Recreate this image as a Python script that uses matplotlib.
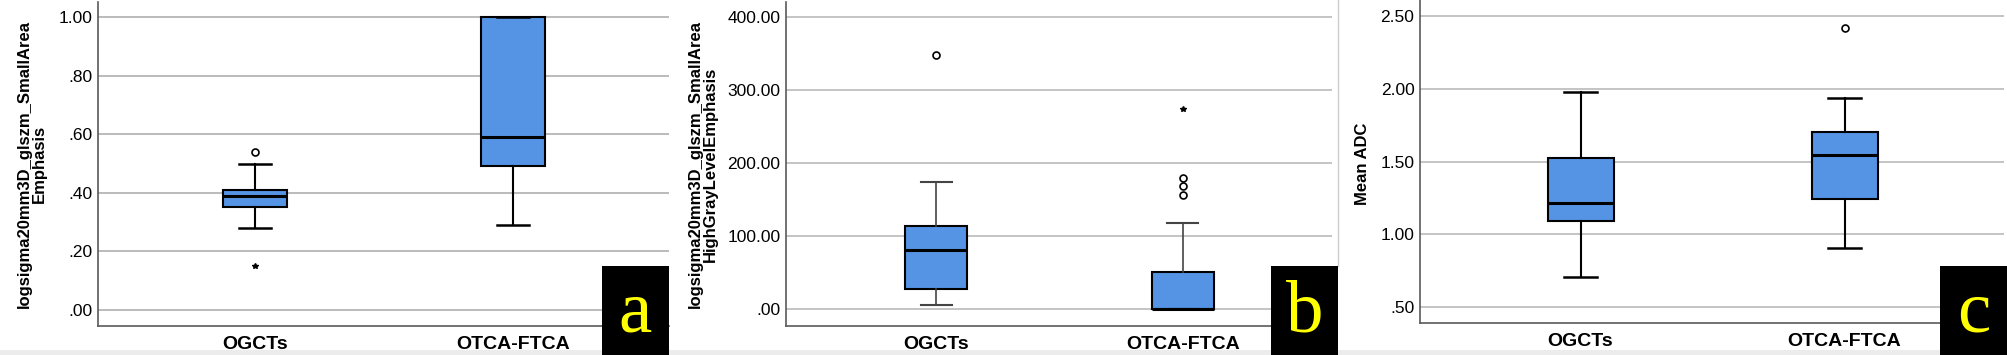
import numpy as np
import matplotlib
matplotlib.use("Agg")
import matplotlib.pyplot as plt
from matplotlib.patches import Rectangle
from matplotlib.lines import Line2D

plt.rcParams['font.family'] = ['Liberation Sans', 'DejaVu Sans']

groups = ["OGCTs", "OTCA-FTCA"]

# panel a: logsigma20mm3D_glszm_SmallAreaEmphasis
a_q1 = [0.352, 0.492]
a_med = [0.389, 0.592]
a_q3 = [0.410, 1.000]
a_lo = [0.280, 0.290]
a_hi = [0.500, 1.000]
a_circles = [[0.540], []]
a_stars = [[0.151], []]

# panel b: logsigma20mm3D_glszm_SmallAreaHighGrayLevelEmphasis
b_q1 = [27.9, 0.5]
b_med = [80.8, 1.0]
b_q3 = [114.2, 51.0]
b_lo = [5.5, 0.5]
b_hi = [174.0, 118.5]
b_circles = [[348.0], [156.5, 168.5, 180.5]]
b_stars = [[], [275.0]]

# panel c: Mean ADC
c_q1 = [1.090, 1.241]
c_med = [1.218, 1.548]
c_q3 = [1.527, 1.706]
c_lo = [0.710, 0.907]
c_hi = [1.980, 1.937]
c_circles = [[], [2.420]]
c_stars = [[], []]

W, H = 2008, 355
fig = plt.figure(figsize=(W / 100, H / 100), dpi=100)


def px_axes(l, r, t, b):
    return fig.add_axes([l / W, 1 - b / H, (r - l) / W, (b - t) / H])


def fmt(v):
    s = f"{v:.2f}"
    if s.startswith("0."):
        s = s[1:]
    return s


def panel(ax, q1, med, q3, lo, hi, circles, stars, ylim, ticks, gridc, whc, whlw):
    stats = []
    for i in range(2):
        stats.append(dict(q1=q1[i], med=med[i], q3=q3[i], whislo=lo[i], whishi=hi[i]))
    ax.bxp(stats, positions=[1, 2], widths=0.25, showfliers=False, patch_artist=True,
           boxprops=dict(facecolor="#5594e4", edgecolor="black", linewidth=1.5),
           medianprops=dict(color="black", linewidth=2.2),
           whiskerprops=dict(color=whc, linewidth=whlw),
           capprops=dict(color=whc, linewidth=whlw + 0.3), zorder=3)
    for i in range(2):
        if circles[i]:
            ax.plot([i + 1] * len(circles[i]), circles[i], "o", mfc="white", mec="black",
                    ms=5, mew=1.2, zorder=4)
        if stars[i]:
            ax.plot([i + 1] * len(stars[i]), stars[i], "*", color="black", ms=4, zorder=4)
    ax.set_xlim(0.392, 2.604)
    ax.set_ylim(*ylim)
    ax.set_yticks(ticks)
    ax.set_yticklabels([fmt(t) for t in ticks], fontsize=12.5)
    ax.set_xticks([1, 2])
    ax.set_xticklabels(groups, fontsize=14, fontweight="bold")
    ax.tick_params(length=0)
    ax.tick_params(axis="y", pad=4)
    ax.tick_params(axis="x", pad=7)
    ax.grid(axis="y", color=gridc, linewidth=1.1, zorder=0)
    ax.set_axisbelow(True)
    for s in ["top", "right"]:
        ax.spines[s].set_visible(False)
    for s in ["left", "bottom"]:
        ax.spines[s].set_color("#5a5a5a")
        ax.spines[s].set_linewidth(1.2)


ax_a = px_axes(98, 669, 2, 326)
panel(ax_a, a_q1, a_med, a_q3, a_lo, a_hi, a_circles, a_stars,
      (-0.0547, 1.052), [0.0, 0.2, 0.4, 0.6, 0.8, 1.0], "#a8a8a8", "black", 1.5)

ax_b = px_axes(786, 1332, 2, 326)
panel(ax_b, b_q1, b_med, b_q3, b_lo, b_hi, b_circles, b_stars,
      (-22.9, 421.0), [0, 100, 200, 300, 400], "#b4b4b4", "#444444", 1.2)

ax_c = px_axes(1420, 2004, 0, 323)
panel(ax_c, c_q1, c_med, c_q3, c_lo, c_hi, c_circles, c_stars,
      (0.392, 2.61), [0.5, 1.0, 1.5, 2.0, 2.5], "#b4b4b4", "black", 1.5)

# y axis titles
ylabels = [(32, "logsigma20mm3D_glszm_SmallArea\nEmphasis"),
           (703, "logsigma20mm3D_glszm_SmallArea\nHighGrayLevelEmphasis"),
           (1363, "Mean ADC")]
for x, t in ylabels:
    fig.text(x / W, 1 - 164 / H, t, rotation=90, ha="center", va="center",
             multialignment="center", fontsize=12, fontweight="bold", linespacing=0.95)

# light strip at the bottom and border of panel b
fig.patches.append(Rectangle((0, 0), 1, 5 / H, transform=fig.transFigure,
                             facecolor="#ececec", edgecolor="none"))
fig.lines.append(Line2D([1338 / W, 1338 / W], [1, 1 - 266 / H], transform=fig.transFigure,
                        color="#cccccc", linewidth=1))

# panel letters
for x0, letter in [(602, "a"), (1271, "b"), (1940, "c")]:
    fig.patches.append(Rectangle((x0 / W, 0), 67 / W, 89 / H, transform=fig.transFigure,
                                 facecolor="black", edgecolor="none", zorder=5))
    fig.text((x0 + 33.5) / W, 1 - 331 / H, letter, color="#ffff00", fontsize=54,
             family="Liberation Serif", ha="center", va="baseline", zorder=6)

fig.savefig("out.png", dpi=100)
